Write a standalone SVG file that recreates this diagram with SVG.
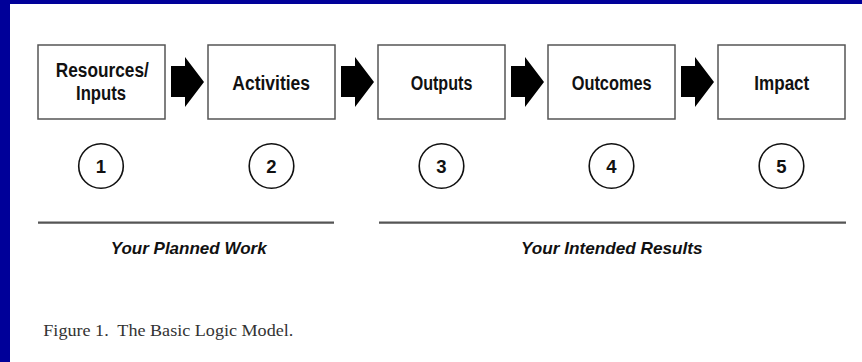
<svg xmlns="http://www.w3.org/2000/svg" xmlns:xlink="http://www.w3.org/1999/xlink" width="862" height="362" viewBox="0 0 862 362">
<style>
.box{fill:#fff;stroke:#555;stroke-width:1.5}
.lbl{font-family:"Liberation Sans",Arial,sans-serif;font-weight:bold;font-size:20px;fill:#111;text-anchor:middle}
.circ{fill:#fff;stroke:#111;stroke-width:1.6}
.num{font-family:"Liberation Sans",Arial,sans-serif;font-weight:bold;font-size:18.5px;fill:#111;text-anchor:middle}
.rule{stroke:#555;stroke-width:2.2}
.grp{font-family:"Liberation Sans",Arial,sans-serif;font-weight:bold;font-style:italic;font-size:17px;fill:#111;text-anchor:middle}
.cap{font-family:"Liberation Serif","Times New Roman",serif;font-size:17.5px;fill:#333}
.arrow{fill:#000}
</style>
<defs>
<path id="arr" class="arrow" d="M171,66 H185 V57 L204,82 L185,107 V97 H171 Z"/>
</defs>
<rect x="0" y="0" width="862" height="362" fill="#fff"/>
<rect x="0" y="0" width="862" height="4" fill="#000099"/>
<rect x="0" y="0" width="10" height="362" fill="#000099"/>

<g id="node-resources">
<rect class="box" x="38" y="45" width="127" height="74"/>
<text class="lbl" x="102.3" y="77.3" textLength="93" lengthAdjust="spacingAndGlyphs">Resources/</text>
<text class="lbl" x="101" y="99.7" textLength="50" lengthAdjust="spacingAndGlyphs">Inputs</text>
</g>
<g id="node-activities">
<rect class="box" x="208" y="45" width="127" height="74"/>
<text class="lbl" x="271.2" y="90" textLength="77.7" lengthAdjust="spacingAndGlyphs">Activities</text>
</g>
<g id="node-outputs">
<rect class="box" x="378" y="45" width="127" height="74"/>
<text class="lbl" x="441.5" y="90" textLength="61.7" lengthAdjust="spacingAndGlyphs">Outputs</text>
</g>
<g id="node-outcomes">
<rect class="box" x="548" y="45" width="127" height="74"/>
<text class="lbl" x="611.7" y="90" textLength="80" lengthAdjust="spacingAndGlyphs">Outcomes</text>
</g>
<g id="node-impact">
<rect class="box" x="718" y="45" width="127" height="74"/>
<text class="lbl" x="781.8" y="90" textLength="55" lengthAdjust="spacingAndGlyphs">Impact</text>
</g>

<g id="connectors">
<use xlink:href="#arr"/>
<use xlink:href="#arr" transform="translate(170,0)"/>
<use xlink:href="#arr" transform="translate(340,0)"/>
<use xlink:href="#arr" transform="translate(510,0)"/>
</g>

<g id="step-1"><circle class="circ" cx="101" cy="166" r="22.3"/><text class="num" x="101" y="173.3">1</text></g>
<g id="step-2"><circle class="circ" cx="271.5" cy="166" r="22.3"/><text class="num" x="271.5" y="173.3">2</text></g>
<g id="step-3"><circle class="circ" cx="441.5" cy="166" r="22.3"/><text class="num" x="441.5" y="173.3">3</text></g>
<g id="step-4"><circle class="circ" cx="611.5" cy="166" r="22.3"/><text class="num" x="611.5" y="173.3">4</text></g>
<g id="step-5"><circle class="circ" cx="781.5" cy="166" r="22.3"/><text class="num" x="781.5" y="173.3">5</text></g>

<g id="planned-work">
<line class="rule" x1="38" y1="222.7" x2="334" y2="222.7"/>
<text class="grp" x="188.7" y="254.3" textLength="156" lengthAdjust="spacingAndGlyphs">Your Planned Work</text>
</g>
<g id="intended-results">
<line class="rule" x1="379" y1="222.7" x2="846" y2="222.7"/>
<text class="grp" x="611.8" y="254.3" textLength="181.7" lengthAdjust="spacingAndGlyphs">Your Intended Results</text>
</g>

<text class="cap" x="43.3" y="336.3" textLength="250" lengthAdjust="spacingAndGlyphs" xml:space="preserve">Figure 1.  The Basic Logic Model.</text>
</svg>
